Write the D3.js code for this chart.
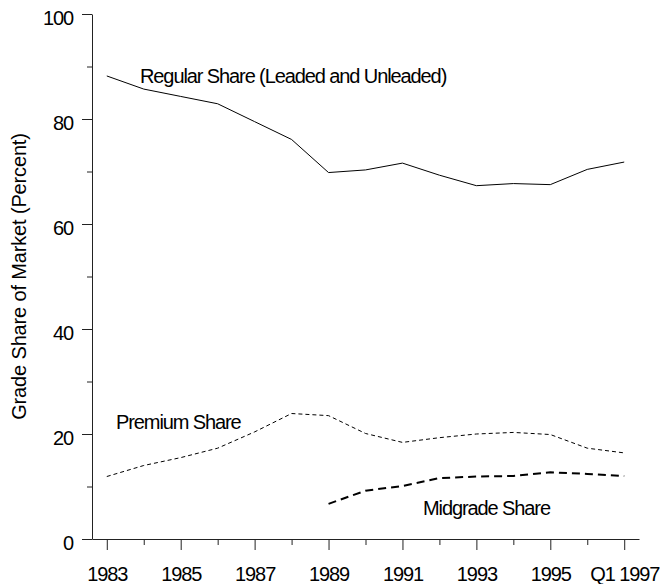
<!DOCTYPE html>
<html><head><meta charset="utf-8">
<script src="https://cdn.jsdelivr.net/npm/d3@7/dist/d3.min.js"></script>
<style>
body{margin:0;background:#fff;}
svg text{font-family:"Liberation Sans",Arial,sans-serif;fill:#000;}
</style></head>
<body>
<svg id="chart" width="660" height="584"></svg>
<script>
const years = [1983,1984,1985,1986,1987,1988,1989,1990,1991,1992,1993,1994,1995,1996,1997];
const regular = [88.2,85.7,84.3,82.9,79.5,76.1,69.8,70.3,71.6,69.3,67.3,67.7,67.5,70.4,71.8];
const premium = [11.9,14.0,15.5,17.3,20.4,23.9,23.5,20.1,18.4,19.3,20.0,20.3,19.9,17.3,16.4];
const midgradeYears = [1989,1990,1991,1992,1993,1994,1995,1996,1997];
const midgrade = [6.7,9.2,10.1,11.6,11.9,12.0,12.7,12.4,12.0];
const xTickYears = [1983,1985,1987,1989,1991,1993,1995,1997];
const xTickLabels = ["1983","1985","1987","1989","1991","1993","1995","Q1 1997"];
const yTicks = [0,20,40,60,80,100];
const yMinor = [10,30,50,70,90];
const xMinor = [1984,1986,1988,1990,1992,1994,1996];

const svg = d3.select("#chart");
const x = d3.scaleLinear().domain([1982.6,1997.4]).range([92,639]);
const y = d3.scaleLinear().domain([0,100]).range([539,14]);
const ls = "-1.1px";
const axisColor = "#222";

// Y axis
const yAx = svg.append("g").attr("transform","translate(92,0)")
  .call(d3.axisLeft(y).tickValues(yTicks).tickSize(10).tickSizeOuter(0).tickFormat(d3.format("d")));
yAx.select(".domain").attr("stroke",axisColor);
yAx.selectAll(".tick line").attr("stroke",axisColor);
yAx.selectAll(".tick text").attr("font-size",20).attr("letter-spacing",ls)
  .attr("x",-19).attr("dy",null).attr("y",10).attr("font-family","Liberation Sans, Arial, sans-serif");
const yAx2 = svg.append("g").attr("transform","translate(92,0)")
  .call(d3.axisLeft(y).tickValues(yMinor).tickSize(5).tickFormat(""));
yAx2.select(".domain").remove();
yAx2.selectAll(".tick line").attr("stroke",axisColor);

// X axis
const xAx = svg.append("g").attr("transform","translate(0,539)")
  .call(d3.axisBottom(x).tickValues(xTickYears).tickSize(11).tickSizeOuter(0)
    .tickFormat((d,i)=>xTickLabels[i]));
xAx.select(".domain").attr("stroke",axisColor);
xAx.selectAll(".tick line").attr("stroke",axisColor);
xAx.selectAll(".tick text").attr("font-size",20).attr("letter-spacing",ls)
  .attr("dy",null).attr("y",42).attr("font-family","Liberation Sans, Arial, sans-serif");
const xAx2 = svg.append("g").attr("transform","translate(0,539)")
  .call(d3.axisBottom(x).tickValues(xMinor).tickSize(6).tickFormat(""));
xAx2.select(".domain").remove();
xAx2.selectAll(".tick line").attr("stroke",axisColor);

// Lines
const line = d3.line().x(d=>x(d[0])).y(d=>y(d[1]));
svg.append("path").datum(years.map((yr,i)=>[yr,regular[i]]))
  .attr("d",line).attr("fill","none").attr("stroke","#000").attr("stroke-width",1);
svg.append("path").datum(years.map((yr,i)=>[yr,premium[i]]))
  .attr("d",line).attr("fill","none").attr("stroke","#000").attr("stroke-width",1)
  .attr("stroke-dasharray","4,3");
svg.append("path").datum(midgradeYears.map((yr,i)=>[yr,midgrade[i]]))
  .attr("d",line).attr("fill","none").attr("stroke","#000").attr("stroke-width",2)
  .attr("stroke-dasharray","8,5");

// Series labels
const lab = (t,xx,yy)=>svg.append("text").attr("x",xx).attr("y",yy)
  .attr("font-size",20).attr("letter-spacing",ls).text(t);
lab("Regular Share (Leaded and Unleaded)",140,83);
lab("Premium Share",116,429);
lab("Midgrade Share",423,515);

// Y title
svg.append("text").attr("transform","translate(26,276.5) rotate(-90)")
  .attr("text-anchor","middle").attr("font-size",20).attr("letter-spacing","-0.15px")
  .text("Grade Share of Market (Percent)");
</script>
</body></html>
